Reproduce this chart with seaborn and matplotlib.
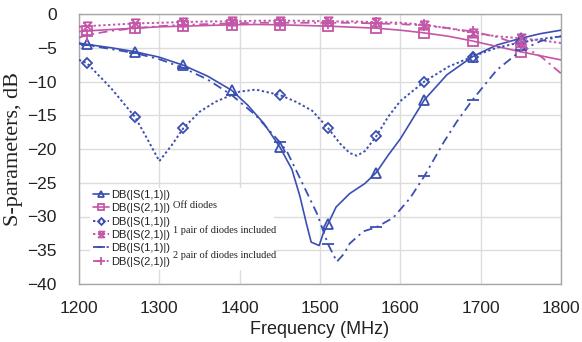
import matplotlib
matplotlib.use("Agg")
import matplotlib.pyplot as plt
from matplotlib.patches import Rectangle
import seaborn as sns
import numpy as np

# ---------------- data ----------------
marker_freqs = [1210, 1270, 1330, 1390, 1450, 1510, 1570, 1630, 1690, 1750]

f_s11_off = [1200, 1210, 1240, 1270, 1300, 1330, 1360, 1390, 1410, 1430, 1450, 1465, 1475, 1483,
             1489, 1499, 1504, 1510, 1520, 1537, 1556, 1570, 1585, 1600, 1615, 1630, 1658, 1690,
             1720, 1750, 1775, 1800]
s11_off = [-4.3, -4.5, -5.0, -5.6, -6.4, -7.6, -9.2, -11.3, -13.5, -16.2, -19.7, -23.0, -27.0, -31.0,
           -33.8, -34.3, -32.5, -31.1, -28.6, -26.6, -25.1, -23.5, -20.9, -18.5, -15.6, -12.7, -9.0, -6.3,
           -4.6, -3.6, -2.9, -2.4]

f_s21_off = [1200, 1210, 1240, 1270, 1300, 1330, 1360, 1390, 1420, 1450, 1480, 1510, 1540, 1570,
             1600, 1630, 1660, 1690, 1720, 1750, 1775, 1800]
s21_off = [-2.6, -2.5, -2.3, -2.1, -1.9, -1.8, -1.7, -1.6, -1.55, -1.6, -1.7, -1.8, -1.95, -2.1,
           -2.4, -2.8, -3.3, -4.0, -4.8, -5.6, -6.2, -6.8]

f_s11_1p = [1200, 1210, 1240, 1270, 1285, 1300, 1315, 1330, 1350, 1370, 1400, 1420, 1450, 1470,
            1490, 1510, 1525, 1537, 1546, 1556, 1570, 1585, 1600, 1630, 1660, 1690, 1720, 1750,
            1775, 1800]
s11_1p = [-6.8, -7.3, -11.0, -15.3, -18.5, -21.8, -19.5, -16.9, -14.5, -13.0, -11.5, -11.2, -12.0, -13.0,
          -14.3, -16.9, -19.2, -20.6, -21.0, -20.3, -18.1, -15.2, -12.9, -10.0, -7.8, -6.3, -5.0, -4.2,
          -3.7, -3.3]

f_s21_1p = [1200, 1210, 1240, 1270, 1300, 1330, 1360, 1390, 1420, 1450, 1480, 1510, 1540, 1570,
            1600, 1630, 1660, 1690, 1720, 1750, 1775, 1800]
s21_1p = [-1.9, -1.8, -1.6, -1.4, -1.3, -1.2, -1.1, -1.1, -1.0, -1.0, -1.0, -1.1, -1.1, -1.2,
          -1.3, -1.6, -2.1, -2.8, -3.3, -3.6, -3.9, -4.3]

f_s11_2p = [1200, 1210, 1240, 1270, 1300, 1330, 1360, 1390, 1420, 1450, 1459, 1477, 1496, 1510,
            1521, 1530, 1537, 1554, 1570, 1591, 1612, 1630, 1654, 1670, 1690, 1720, 1741, 1750,
            1775, 1800]
s11_2p = [-4.4, -4.6, -5.2, -5.8, -6.7, -8.0, -9.7, -12.0, -15.0, -19.0, -20.4, -24.8, -29.5, -34.1,
          -36.7, -35.5, -34.0, -32.2, -31.6, -30.2, -27.3, -24.0, -19.0, -16.0, -12.7, -8.3, -6.3, -5.4,
          -4.0, -3.3]

f_s21_2p = [1200, 1210, 1240, 1270, 1300, 1330, 1360, 1390, 1420, 1450, 1480, 1510, 1540, 1570,
            1600, 1630, 1660, 1690, 1720, 1750, 1775, 1800]
s21_2p = [-3.5, -3.1, -2.5, -2.1, -1.8, -1.6, -1.5, -1.4, -1.3, -1.3, -1.3, -1.3, -1.3, -1.4,
          -1.5, -1.7, -2.1, -2.6, -3.4, -4.6, -6.3, -8.8]

series_labels = ["DB(|S(1,1)|)", "DB(|S(2,1)|)", "DB(|S(1,1)|)", "DB(|S(2,1)|)",
                 "DB(|S(1,1)|)", "DB(|S(2,1)|)"]
group_labels = ["Off diodes", "1 pair of diodes included", "2 pair of diodes included"]
x_ticks = [1200, 1300, 1400, 1500, 1600, 1700, 1800]
y_ticks = [0, -5, -10, -15, -20, -25, -30, -35, -40]

# ---------------- style ----------------
sns.set_style("white")
plt.rcParams['font.family'] = ['Liberation Sans', 'DejaVu Sans']

BLUE = "#3b4fb2"
PINK = "#c456a8"

hourglass = [(-1, 1), (1, 1), (-1, -1), (1, -1), (-1, 1)]

fig = plt.figure(figsize=(5.82, 3.42), dpi=100)
ax = fig.add_axes([79 / 582, 1 - 284 / 342, (561 - 79) / 582, (284 - 14) / 342])

def midx(f):
    return [i for i, v in enumerate(f) if v in marker_freqs]

specs = [
    (f_s11_off, s11_off, BLUE, "-", "^", 7, 1.2),
    (f_s21_off, s21_off, PINK, "-", "s", 6.5, 1.2),
    (f_s11_1p, s11_1p, BLUE, (0, (1.2, 1.3)), "D", 5, 1.4),
    (f_s21_1p, s21_1p, PINK, (0, (1.2, 1.3)), hourglass, 6, 1.4),
    (f_s11_2p, s11_2p, BLUE, (0, (5, 2.5, 1.2, 2.5)), "_", 9, 1.3),
    (f_s21_2p, s21_2p, PINK, (0, (5, 2.5, 1.2, 2.5)), "+", 8, 1.3),
]

for (fx, fy, col, ls, mk, ms, lw), lab in zip(specs, series_labels):
    sns.lineplot(x=fx, y=fy, ax=ax, color=col, linestyle=ls, linewidth=lw,
                 marker=mk, markersize=ms, markevery=midx(fx),
                 markerfacecolor="none", markeredgecolor=col, markeredgewidth=1.3,
                 label=lab, zorder=3)

ax.set_xlim(1200, 1800)
ax.set_ylim(-40, 0)
ax.set_xticks(x_ticks)
ax.set_yticks(y_ticks)
ax.grid(True, color="#dcdcdc", linewidth=1.0)
ax.set_axisbelow(True)
for s in ax.spines.values():
    s.set_color("#a6a6a6")
    s.set_linewidth(1.0)
ax.tick_params(axis="both", length=0, labelsize=12.5, colors="#222222")
ax.tick_params(axis="y", pad=16)
ax.tick_params(axis="x", pad=12)
ax.set_xlabel("Frequency (MHz)", fontsize=13, color="#222222", labelpad=4)
ax.set_ylabel("S-parameters, dB", fontsize=16, family=["Liberation Serif", "DejaVu Serif"],
              color="#222222", labelpad=3)

# white area behind legend and group labels
ax.add_artist(Rectangle((90 / 582, 1 - 270 / 342), (274 - 90) / 582, (270 - 188) / 342,
                        transform=fig.transFigure, facecolor="white", edgecolor="none", zorder=1))

h, l = ax.get_legend_handles_labels()
leg = ax.legend(h, l, loc="upper left", bbox_to_anchor=(93 / 582, 1 - 190 / 342),
                bbox_transform=fig.transFigure, frameon=False, fontsize=8,
                handlelength=1.4, handletextpad=0.2, labelspacing=0.3,
                borderpad=0, borderaxespad=0, markerscale=0.7)
for t in leg.get_texts():
    t.set_color("#222222")

for txt, ypix in zip(group_labels, [205, 230.5, 255]):
    fig.text(173 / 582, 1 - ypix / 342, txt, fontsize=7.5, va="center", ha="left",
             family=["Liberation Serif", "DejaVu Serif"], color="#222222")

fig.savefig("out.png", dpi=100)
